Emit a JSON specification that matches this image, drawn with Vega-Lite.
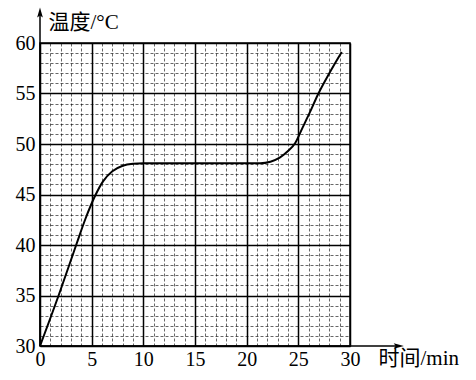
{
  "$schema": "https://vega.github.io/schema/vega-lite/v6.json",
  "width": 310,
  "height": 303,
  "autosize": "none",
  "padding": {"left": 40, "top": 43, "right": 126, "bottom": 34},
  "background": "white",
  "config": {
    "view": {"stroke": "black", "strokeWidth": 1.5},
    "font": "Liberation Serif, Noto Sans CJK SC"
  },
  "datasets": {
    "curve": [
      {"t": 0, "temp": 30},
      {"t": 1.8, "temp": 35},
      {"t": 3.5, "temp": 40},
      {"t": 4.4, "temp": 42.6},
      {"t": 5.3, "temp": 44.8},
      {"t": 6.1, "temp": 46.3},
      {"t": 7.0, "temp": 47.3},
      {"t": 8.0, "temp": 47.85},
      {"t": 9.0, "temp": 48.05},
      {"t": 10.0, "temp": 48.1},
      {"t": 15, "temp": 48.1},
      {"t": 21.3, "temp": 48.1},
      {"t": 22.3, "temp": 48.25},
      {"t": 23.2, "temp": 48.65},
      {"t": 24.0, "temp": 49.3},
      {"t": 24.7, "temp": 50.1},
      {"t": 25.4, "temp": 51.6},
      {"t": 26.1, "temp": 53.1},
      {"t": 26.9, "temp": 54.9},
      {"t": 28, "temp": 57},
      {"t": 29.2, "temp": 59.1}
    ],
    "axes": [
      {"axis": "x", "x": 0, "y": 30, "x2": 34.6, "y2": 30},
      {"axis": "y", "x": 0, "y": 30, "x2": 0, "y2": 62.9}
    ]
  },
  "layer": [
    {
      "data": {"name": "curve"},
      "mark": {"type": "line", "interpolate": "monotone", "color": "black", "strokeWidth": 2},
      "encoding": {
        "x": {
          "field": "t", "type": "quantitative",
          "scale": {"domain": [0, 30], "nice": false, "zero": false},
          "axis": {
            "values": [0,1,2,3,4,5,6,7,8,9,10,11,12,13,14,15,16,17,18,19,20,21,22,23,24,25,26,27,28,29,30],
            "tickCount": 31,
            "labelExpr": "datum.value % 5 === 0 ? datum.label : ''",
            "ticks": false,
            "domain": false,
            "grid": true,
            "gridColor": "black",
            "gridWidth": {"condition": {"test": "datum.value % 5 === 0", "value": 1.5}, "value": 0.8},
            "gridDash": {"condition": {"test": "datum.value % 5 === 0", "value": []}, "value": [3, 2]},
            "gridOpacity": {"condition": {"test": "datum.value % 5 === 0", "value": 1}, "value": 0.75},
            "labelFont": "Liberation Serif",
            "labelFontSize": 20,
            "labelColor": "black",
            "labelPadding": 3,
            "labelFlush": false,
            "labelOverlap": false,
            "title": "时间/min",
            "titleFont": "Liberation Serif, Noto Sans CJK SC",
            "titleFontSize": 21,
            "titleFontWeight": "normal",
            "titleColor": "black",
            "titleAlign": "left",
            "titleAnchor": null,
            "titleBaseline": "middle",
            "titleX": 338,
            "titleY": 12
          }
        },
        "y": {
          "field": "temp", "type": "quantitative",
          "scale": {"domain": [30, 60], "nice": false, "zero": false},
          "axis": {
            "values": [30,31,32,33,34,35,36,37,38,39,40,41,42,43,44,45,46,47,48,49,50,51,52,53,54,55,56,57,58,59,60],
            "tickCount": 31,
            "labelExpr": "datum.value % 5 === 0 ? datum.label : ''",
            "ticks": false,
            "domain": false,
            "grid": true,
            "gridColor": "black",
            "gridWidth": {"condition": {"test": "datum.value % 5 === 0", "value": 1.5}, "value": 0.8},
            "gridDash": {"condition": {"test": "datum.value % 5 === 0", "value": []}, "value": [3, 2]},
            "gridOpacity": {"condition": {"test": "datum.value % 5 === 0", "value": 1}, "value": 0.75},
            "labelFont": "Liberation Serif",
            "labelFontSize": 20,
            "labelColor": "black",
            "labelPadding": 5,
            "labelFlush": false,
            "labelOverlap": false,
            "title": "温度/°C",
            "titleFont": "Liberation Serif, Noto Sans CJK SC",
            "titleFontSize": 21,
            "titleFontWeight": "normal",
            "titleColor": "black",
            "titleAngle": 0,
            "titleAlign": "left",
            "titleAnchor": null,
            "titleBaseline": "middle",
            "titleX": 8,
            "titleY": -21
          }
        }
      }
    },
    {
      "data": {"name": "axes"},
      "mark": {"type": "rule", "color": "black", "strokeWidth": 1.5},
      "encoding": {
        "x": {"field": "x", "type": "quantitative"},
        "y": {"field": "y", "type": "quantitative"},
        "x2": {"field": "x2"},
        "y2": {"field": "y2"}
      }
    },
    {
      "data": {"name": "axes"},
      "transform": [{"filter": "datum.axis === 'x'"}],
      "mark": {"type": "point", "shape": "M0,-1L0.45,0.6L0,0.3L-0.45,0.6Z", "angle": 90, "filled": true, "color": "black", "opacity": 1, "size": 160},
      "encoding": {
        "x": {"field": "x2", "type": "quantitative"},
        "y": {"field": "y2", "type": "quantitative"}
      }
    },
    {
      "data": {"name": "axes"},
      "transform": [{"filter": "datum.axis === 'y'"}],
      "mark": {"type": "point", "shape": "M0,-1L0.45,0.6L0,0.3L-0.45,0.6Z", "angle": 0, "filled": true, "color": "black", "opacity": 1, "size": 160},
      "encoding": {
        "x": {"field": "x2", "type": "quantitative"},
        "y": {"field": "y2", "type": "quantitative"}
      }
    }
  ]
}
